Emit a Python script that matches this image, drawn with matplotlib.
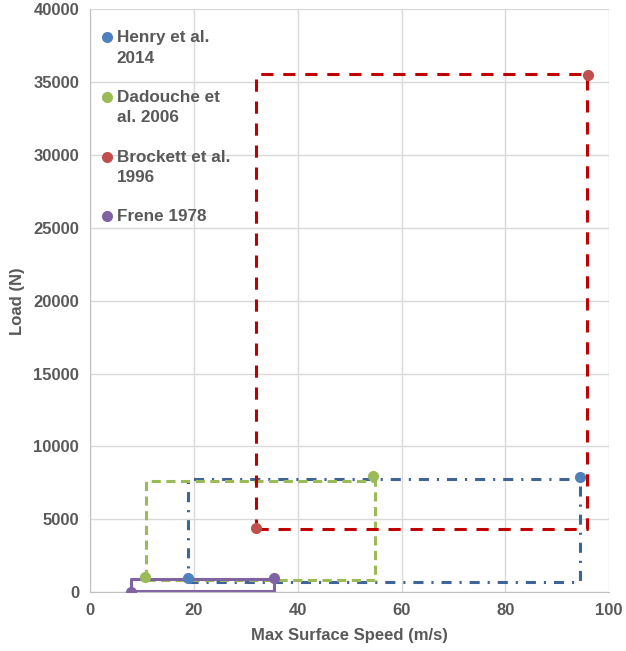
import numpy as np
import matplotlib.pyplot as plt

plt.rcParams['font.family'] = ['Liberation Sans', 'DejaVu Sans']
plt.rcParams['font.weight'] = 'bold'
plt.rcParams['axes.labelweight'] = 'bold'

# studies, marker points (speed m/s, load N)
labels = ["Henry et al.\n2014", "Dadouche et\nal. 2006", "Brockett et al.\n1996", "Frene 1978"]
pts_x = [[18.8, 94.3], [10.6, 54.5], [31.9, 95.9], [7.8, 35.5]]
pts_y = [[950, 7900], [1010, 7960], [4370, 35500], [20, 940]]
# envelope boxes: xmin, xmax, ymin, ymax
box_x0 = [18.9, 10.8, 31.9, 7.8]
box_x1 = [94.3, 54.8, 95.8, 35.5]
box_y0 = [707, 820, 4320, 90]
box_y1 = [7730, 7640, 35540, 870]

marker_cols = ["#4F81BD", "#9BBB59", "#C0504D", "#8064A2"]
line_cols = ["#3F6497", "#9BBB59", "#C00000", "#8064A2"]
line_styles = [(0, (3.3, 2.6, 0.7, 2.6)), (0, (3, 1.8)), (0, (4, 3.2)), "-"]

fig = plt.figure(figsize=(6.26, 6.51), dpi=100)
ax = fig.add_axes([0.144, 0.0906, 0.829, 0.895])

for i in range(4):
    bx = [box_x0[i], box_x1[i], box_x1[i], box_x0[i], box_x0[i]]
    by = [box_y0[i], box_y0[i], box_y1[i], box_y1[i], box_y0[i]]
    ax.plot(bx, by, color=line_cols[i], lw=2.2, linestyle=line_styles[i], zorder=2)
    ax.plot(pts_x[i], pts_y[i], 'o', color=marker_cols[i], ms=7, zorder=3)

ax.set_xlim(0, 100)
ax.set_ylim(0, 40000)
ax.set_xticks(np.arange(0, 101, 20))
ax.set_yticks(np.arange(0, 40001, 5000))
ax.grid(True, color="#D9D9D9", lw=1)
ax.set_axisbelow(True)
for s in ["top", "right"]:
    ax.spines[s].set_visible(False)
for s in ["left", "bottom"]:
    ax.spines[s].set_color("#BFBFBF")
ax.tick_params(length=0, labelsize=12, colors="#595959", pad=8)
ax.set_xlabel("Max Surface Speed (m/s)", fontsize=12, color="#595959", labelpad=7)
ax.set_ylabel("Load (N)", fontsize=12, color="#595959", labelpad=6)

# legend drawn by hand so the marker sits beside the first line
for i in range(4):
    yy = 0.952 - i * 0.1023
    ax.plot(0.033, yy, 'o', color=marker_cols[i], ms=7, transform=ax.transAxes, clip_on=False)
    ax.text(0.051, yy + 0.012, labels[i], transform=ax.transAxes, fontsize=12.3, color="#595959",
            va="top", ha="left", linespacing=1.45)

fig.savefig("out.png", dpi=100)
